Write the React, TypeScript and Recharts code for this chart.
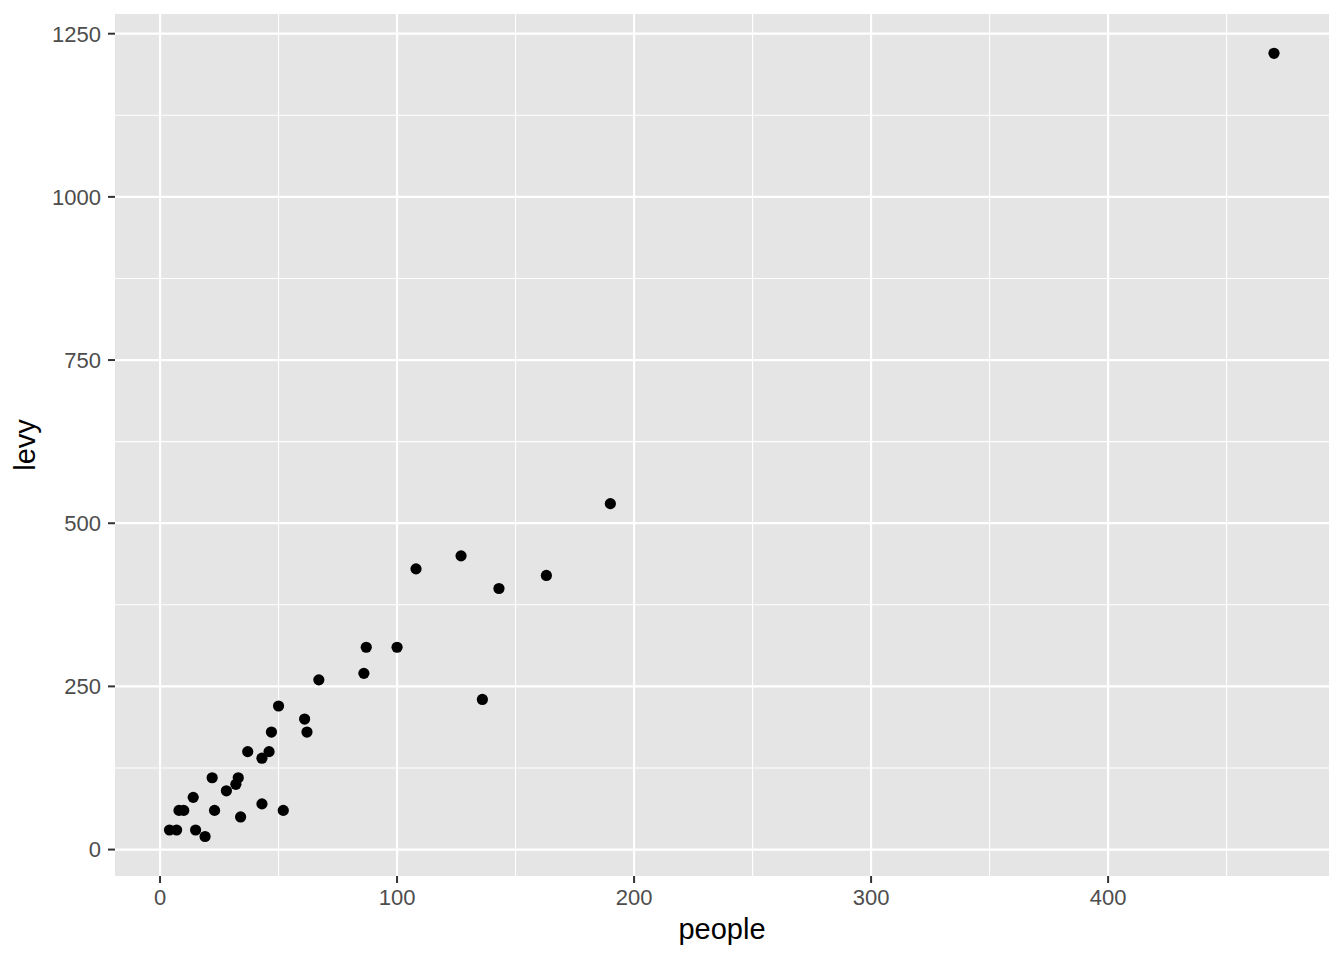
import { ScatterChart, Scatter, XAxis, YAxis, CartesianGrid, ReferenceLine, Label } from 'recharts';

const people = [
  4, 7, 8, 10, 14, 15, 19, 22, 23, 28, 32, 33, 34, 37, 43, 43, 46, 47, 50, 52, 61, 62, 67,
  86, 87, 100, 108, 127, 136, 143, 163, 190, 470
];
const levy = [
  30, 30, 60, 60, 80, 30, 20, 110, 60, 90, 100, 110, 50, 150, 140, 70, 150, 180, 220, 60, 200, 180, 260,
  270, 310, 310, 430, 450, 230, 400, 420, 530, 1220
];

const xTicks = [0, 100, 200, 300, 400];
const yTicks = [0, 250, 500, 750, 1000, 1250];
const xMinor = [50, 150, 250, 350, 450];
const yMinor = [125, 375, 625, 875, 1125];

const data = people.map((p, i) => ({ people: p, levy: levy[i] }));

const font = 'Liberation Sans, Arial, Helvetica, sans-serif';

const Dot = (props: any) => <circle cx={props.cx} cy={props.cy} r={5.6} fill="#000" />;

function App() {
  return (
    <div style={{ position: 'absolute', left: 0, top: 0, width: 1344, height: 960, background: '#fff', fontFamily: font }}>
      <ScatterChart width={1344} height={960} margin={{ top: 14, right: 15, bottom: 0, left: 0 }}>
        <CartesianGrid
          fill="#E5E5E5"
          stroke="#fff"
          strokeWidth={2.2}
          horizontalValues={yTicks}
          verticalValues={xTicks}
        />
        {xMinor.map((v) => (
          <ReferenceLine key={`xm${v}`} x={v} stroke="#fff" strokeWidth={1.1} />
        ))}
        {yMinor.map((v) => (
          <ReferenceLine key={`ym${v}`} y={v} stroke="#fff" strokeWidth={1.1} />
        ))}
        <XAxis
          type="number"
          dataKey="people"
          domain={[-19.0, 493.2]}
          ticks={xTicks}
          allowDataOverflow
          height={84}
          axisLine={false}
          tickLine={{ stroke: '#333', strokeWidth: 2 }}
          tickSize={7}
          tickMargin={6}
          tick={{ fill: '#4D4D4D', fontSize: 22, fontFamily: font }}
        >
          <Label value="people" position="insideBottom" offset={21} style={{ fill: '#000', fontSize: 29, fontFamily: font }} />
        </XAxis>
        <YAxis
          type="number"
          dataKey="levy"
          domain={[-40.5, 1280.2]}
          ticks={yTicks}
          allowDataOverflow
          width={115}
          axisLine={false}
          tickLine={{ stroke: '#333', strokeWidth: 2 }}
          tickSize={7}
          tickMargin={7}
          tick={{ fill: '#4D4D4D', fontSize: 22, fontFamily: font }}
        >
          <Label value="levy" angle={-90} position="insideLeft" offset={25} style={{ fill: '#000', fontSize: 29, fontFamily: font, textAnchor: 'middle' }} />
        </YAxis>
        <Scatter data={data} shape={Dot} isAnimationActive={false} />
      </ScatterChart>
    </div>
  );
}

export default App;
